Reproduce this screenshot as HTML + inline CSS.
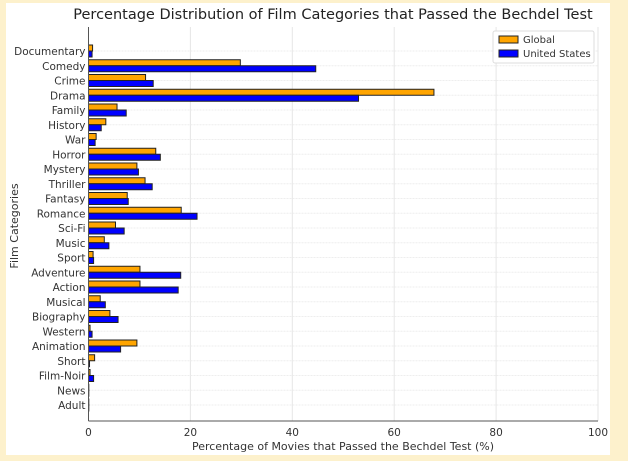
<!DOCTYPE html>
<html><head><meta charset="utf-8"><style>
body{margin:0;background:#fdf1cc;}
svg{display:block;font-family:"DejaVu Sans","Liberation Sans",sans-serif;}
</style></head><body>
<svg id="c" width="628" height="461">
<rect x="0" y="0" width="628" height="461" fill="#fdf1cc"/>
<rect x="6" y="3" width="604" height="452" fill="#ffffff"/>
<text x="333" y="19" text-anchor="middle" font-size="14.5" fill="#222">Percentage Distribution of Film Categories that Passed the Bechdel Test</text>
<g id="grid"></g><g id="bars"></g><g id="axes"></g>
<text x="343" y="450" text-anchor="middle" font-size="11" fill="#333">Percentage of Movies that Passed the Bechdel Test (%)</text>
<text transform="translate(18,226) rotate(-90)" text-anchor="middle" font-size="11" fill="#333">Film Categories</text>
<g>
<rect x="493" y="31" width="101" height="32" fill="#fff" stroke="#ddd" rx="2"/>
<g><rect x="499" y="36" width="19" height="7" fill="#ffa500" stroke="#222"/><text x="523" y="43" font-size="10" fill="#333">Global</text></g>
<g><rect x="499" y="50" width="19" height="7" fill="#0000ff" stroke="#222"/><text x="523" y="57" font-size="10" fill="#333">United States</text></g>
</g>
</svg>
<script>
const categories=["Documentary","Comedy","Crime","Drama","Family","History","War","Horror","Mystery","Thriller","Fantasy","Romance","Sci-Fi","Music","Sport","Adventure","Action","Musical","Biography","Western","Animation","Short","Film-Noir","News","Adult"];
const globalVals=[0.8,29.8,11.2,67.8,5.6,3.4,1.5,13.2,9.5,11.1,7.6,18.2,5.3,3.1,0.9,10.1,10.1,2.3,4.2,0.3,9.5,1.2,0.3,0.05,0.05];
const usVals=[0.7,44.6,12.7,53.0,7.4,2.5,1.3,14.1,9.8,12.5,7.8,21.3,7.0,4.0,1.0,18.1,17.6,3.3,5.8,0.7,6.3,0.2,1.0,0.05,0.05];
const xTicks=[0,20,40,60,80,100];
const NS="http://www.w3.org/2000/svg";
const X0=88.5,X1=598,Y0=27,Y1=421;
const x=v=>X0+(v/100)*(X1-X0);
const y=i=>51+i*14.75;
function mk(t,a,p){const e=document.createElementNS(NS,t);for(const k in a)e.setAttribute(k,a[k]);p.appendChild(e);return e;}
const grid=document.getElementById('grid'),bars=document.getElementById('bars'),axes=document.getElementById('axes');
xTicks.forEach(t=>{
 const l=mk('line',{x1:x(t),x2:x(t),y1:Y0,y2:Y1,stroke:'#e6e6e6','stroke-width':1},grid);
 
 
 const tx=mk('text',{x:x(t),y:Y1+15,'text-anchor':'middle','font-size':10.5,fill:'#333'},axes);
 tx.textContent=t;
 
 
});
categories.forEach((c,i)=>{
 const g=mk('line',{x1:X0,x2:X1,y1:y(i),y2:y(i),stroke:'#eeeeee','stroke-width':1,'stroke-dasharray':'2,1'},grid);
 
 
 const b1=mk('rect',{x:X0,y:y(i)-6,width:Math.max(0.3,x(globalVals[i])-X0),height:6,fill:'#ffa500',stroke:'#222','stroke-width':1},bars);
 
 
 const b2=mk('rect',{x:X0,y:y(i),width:Math.max(0.3,x(usVals[i])-X0),height:6,fill:'#0000ff',stroke:'#222','stroke-width':1},bars);
 
 
 const t=mk('text',{x:X0-3,y:y(i)+4,'text-anchor':'end','font-size':10.5,fill:'#333'},axes);
 t.textContent=c;
 
 
});
const ax=mk('line',{x1:X0,x2:X0,y1:Y0,y2:Y1,stroke:'#555'},axes);


const bx=mk('line',{x1:X0,x2:X1,y1:Y1,y2:Y1,stroke:'#555'},axes);


</script>
</body></html>
